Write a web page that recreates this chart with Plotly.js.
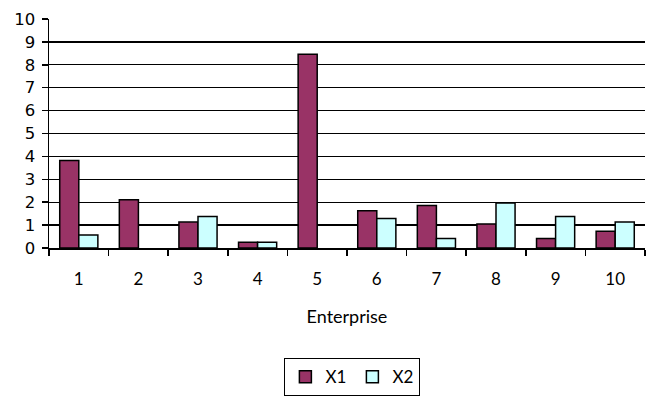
<!DOCTYPE html>
<html>
<head>
<meta charset="utf-8">
<script src="https://cdn.plot.ly/plotly-3.0.1.min.js"></script>
<style>html,body{margin:0;padding:0;background:#fff;}#chart{width:655px;height:398px;}</style>
</head>
<body>
<div id="chart"></div>
<script>
const categories = ['1','2','3','4','5','6','7','8','9','10'];
const x1Values = [3.82, 2.11, 1.13, 0.25, 8.46, 1.63, 1.86, 1.05, 0.41, 0.73];
const x2Values = [0.57, 0, 1.38, 0.25, 0, 1.29, 0.41, 1.96, 1.38, 1.13];
const yTicks = [0,1,2,3,4,5,6,7,8,9,10];

const noZero = arr => arr.map(v => v === 0 ? null : v);

const traces = [
  {type:'bar', name:'X1', x:categories, y:noZero(x1Values),
   marker:{color:'#993366', line:{color:'#000000', width:1.5}}},
  {type:'bar', name:'X2', x:categories, y:noZero(x2Values),
   marker:{color:'#CCFFFF', line:{color:'#000000', width:1.5}}}
];

const layout = {
  width:655, height:398,
  margin:{l:49, r:10, t:19, b:150, autoexpand:false},
  paper_bgcolor:'#ffffff', plot_bgcolor:'#ffffff',
  barmode:'group', bargap:0.36, bargroupgap:0,
  font:{family:'Lato, "DejaVu Sans", sans-serif', color:'#000000', size:16},
  showlegend:true,
  legend:{orientation:'h', xref:'container', yref:'container',
          x:0.538, xanchor:'center', y:0.1, yanchor:'top',
          bordercolor:'#000000', borderwidth:1, font:{size:17, family:'Lato, sans-serif'},
          itemwidth:30, entrywidth:22, entrywidthmode:'pixels', traceorder:'normal'},
  xaxis:{type:'category', showline:true, linecolor:'#000000', linewidth:1.5,
         ticks:'outside', tickson:'boundaries', ticklen:6, tickcolor:'#000000', tickwidth:1.5,
         ticklabelstandoff:15, tickfont:{size:17, family:'Lato, sans-serif'},
         showgrid:false, zeroline:false, automargin:false,
         title:{text:'Enterprise', standoff:22, font:{size:18, family:'Lato, sans-serif'}}},
  yaxis:{range:[0,10], tickvals:yTicks, ticktext:yTicks.map(String),
         showline:true, linecolor:'#000000', linewidth:1.5, automargin:false,
         ticks:'outside', ticklen:6, tickcolor:'#000000', tickwidth:1.5,
         showgrid:true, gridcolor:'#000000', gridwidth:1.3, zeroline:false,
         ticklabelstandoff:3,
         tickfont:{size:16.5, family:'"DejaVu Sans", sans-serif'}}
};

Plotly.newPlot('chart', traces, layout, {displayModeBar:false, staticPlot:true});
</script>
</body>
</html>
